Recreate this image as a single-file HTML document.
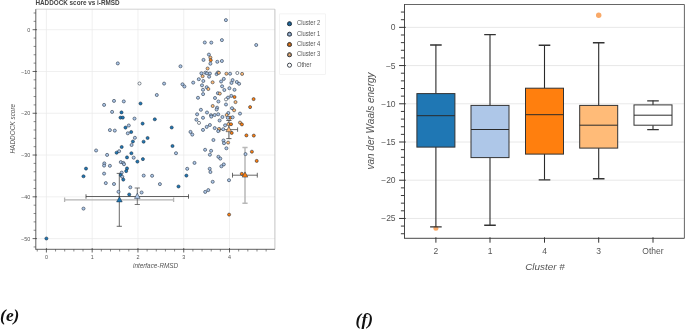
<!DOCTYPE html>
<html><head><meta charset="utf-8"><title>HADDOCK</title>
<style>html,body{margin:0;padding:0;background:#fff;}body{width:685px;height:329px;overflow:hidden;font-family:"Liberation Sans",sans-serif;}svg{display:block;will-change:transform;}text{font-family:"Liberation Sans",sans-serif;}.ser{font-family:"Liberation Serif",serif;}</style>
</head><body>
<svg width="685" height="329" viewBox="0 0 685 329">
<rect x="0" y="0" width="685" height="329" fill="#ffffff"/>
<g opacity="0.999">
<g id="left">
<line x1="46.40" y1="9.2" x2="46.40" y2="249.3" stroke="#e9e9e9" stroke-width="0.7"/>
<line x1="92.18" y1="9.2" x2="92.18" y2="249.3" stroke="#e9e9e9" stroke-width="0.7"/>
<line x1="137.96" y1="9.2" x2="137.96" y2="249.3" stroke="#e9e9e9" stroke-width="0.7"/>
<line x1="183.74" y1="9.2" x2="183.74" y2="249.3" stroke="#e9e9e9" stroke-width="0.7"/>
<line x1="229.52" y1="9.2" x2="229.52" y2="249.3" stroke="#e9e9e9" stroke-width="0.7"/>
<line x1="35.8" y1="29.70" x2="274.9" y2="29.70" stroke="#e9e9e9" stroke-width="0.7"/>
<line x1="35.8" y1="71.48" x2="274.9" y2="71.48" stroke="#e9e9e9" stroke-width="0.7"/>
<line x1="35.8" y1="113.26" x2="274.9" y2="113.26" stroke="#e9e9e9" stroke-width="0.7"/>
<line x1="35.8" y1="155.04" x2="274.9" y2="155.04" stroke="#e9e9e9" stroke-width="0.7"/>
<line x1="35.8" y1="196.82" x2="274.9" y2="196.82" stroke="#e9e9e9" stroke-width="0.7"/>
<line x1="35.8" y1="238.60" x2="274.9" y2="238.60" stroke="#e9e9e9" stroke-width="0.7"/>
<line x1="35.8" y1="9.2" x2="274.9" y2="9.2" stroke="#c8c8c8" stroke-width="0.8"/>
<line x1="274.9" y1="9.2" x2="274.9" y2="249.3" stroke="#b4b4b4" stroke-width="0.8"/>
<text x="35.4" y="4.5" font-size="6.35" font-weight="bold" fill="#444">HADDOCK score vs i-RMSD</text>
<path d="M64.6 199.8H173.6M64.6 197.6V202.0M173.6 197.6V202.0" stroke="#b4b4b4" stroke-width="1.3" fill="none"/>
<path d="M119.3 173.4V226.3M116.7 173.4H121.9M116.7 226.3H121.9" stroke="#444" stroke-width="0.8" fill="none"/>
<path d="M86.0 196.5H188.5M86.0 194.3V198.7M188.5 194.3V198.7" stroke="#3c3c3c" stroke-width="0.8" fill="none"/>
<path d="M137.3 188.0V204.5M134.7 188.0H139.9M134.7 204.5H139.9" stroke="#555" stroke-width="0.8" fill="none"/>
<path d="M245.0 147.4V203.2M242.4 147.4H247.6M242.4 203.2H247.6" stroke="#b8b8b8" stroke-width="1.5" fill="none"/>
<path d="M232.5 175.2H257.3M232.5 172.8V177.6M257.3 172.8V177.6" stroke="#444" stroke-width="0.8" fill="none"/>
<path d="M228.9 120.5V138.6M226.3 120.5H231.5M226.3 138.6H231.5" stroke="#444" stroke-width="0.85" fill="none"/>
<path d="M219.9 129.6H237.6M219.9 127.4V131.8M237.6 127.4V131.8" stroke="#4a4a4a" stroke-width="0.8" fill="none"/>
<circle cx="225.9" cy="20.1" r="1.55" fill="#aec7e8" stroke="#1c2a3a" stroke-width="0.55"/>
<circle cx="221.9" cy="40.1" r="1.55" fill="#aec7e8" stroke="#1c2a3a" stroke-width="0.55"/>
<circle cx="204.8" cy="42.5" r="1.55" fill="#aec7e8" stroke="#1c2a3a" stroke-width="0.55"/>
<circle cx="211.3" cy="42.6" r="1.55" fill="#aec7e8" stroke="#1c2a3a" stroke-width="0.55"/>
<circle cx="256.2" cy="45.0" r="1.55" fill="#aec7e8" stroke="#1c2a3a" stroke-width="0.55"/>
<circle cx="208.9" cy="54.6" r="1.55" fill="#aec7e8" stroke="#1c2a3a" stroke-width="0.55"/>
<circle cx="210.4" cy="57.6" r="1.55" fill="#ffbb78" stroke="#1c2a3a" stroke-width="0.55"/>
<circle cx="210.7" cy="60.2" r="1.55" fill="#ff7f0e" stroke="#1c2a3a" stroke-width="0.55"/>
<circle cx="203.5" cy="59.9" r="1.55" fill="#aec7e8" stroke="#1c2a3a" stroke-width="0.55"/>
<circle cx="210.4" cy="63.7" r="1.55" fill="#aec7e8" stroke="#1c2a3a" stroke-width="0.55"/>
<circle cx="217.3" cy="61.8" r="1.55" fill="#aec7e8" stroke="#1c2a3a" stroke-width="0.55"/>
<circle cx="221.9" cy="61.0" r="1.55" fill="#aec7e8" stroke="#1c2a3a" stroke-width="0.55"/>
<circle cx="207.6" cy="68.5" r="1.55" fill="#ffbb78" stroke="#1c2a3a" stroke-width="0.55"/>
<circle cx="201.4" cy="73.3" r="1.55" fill="#aec7e8" stroke="#1c2a3a" stroke-width="0.55"/>
<circle cx="205.4" cy="72.7" r="1.55" fill="#aec7e8" stroke="#1c2a3a" stroke-width="0.55"/>
<circle cx="207.0" cy="73.3" r="1.55" fill="#aec7e8" stroke="#1c2a3a" stroke-width="0.55"/>
<circle cx="209.9" cy="73.5" r="1.55" fill="#aec7e8" stroke="#1c2a3a" stroke-width="0.55"/>
<circle cx="202.6" cy="76.2" r="1.55" fill="#ffbb78" stroke="#1c2a3a" stroke-width="0.55"/>
<circle cx="209.1" cy="76.7" r="1.55" fill="#aec7e8" stroke="#1c2a3a" stroke-width="0.55"/>
<circle cx="216.6" cy="74.1" r="1.55" fill="#aec7e8" stroke="#1c2a3a" stroke-width="0.55"/>
<circle cx="217.9" cy="72.5" r="1.55" fill="#aec7e8" stroke="#1c2a3a" stroke-width="0.55"/>
<circle cx="218.9" cy="72.8" r="1.55" fill="#ffbb78" stroke="#1c2a3a" stroke-width="0.55"/>
<circle cx="226.4" cy="73.7" r="1.55" fill="#ffbb78" stroke="#1c2a3a" stroke-width="0.55"/>
<circle cx="230.1" cy="73.7" r="1.55" fill="#aec7e8" stroke="#1c2a3a" stroke-width="0.55"/>
<circle cx="237.3" cy="73.0" r="1.55" fill="#ffffff" stroke="#1c2a3a" stroke-width="0.55"/>
<circle cx="242.1" cy="73.9" r="1.55" fill="#ffbb78" stroke="#1c2a3a" stroke-width="0.55"/>
<circle cx="198.8" cy="79.2" r="1.55" fill="#aec7e8" stroke="#1c2a3a" stroke-width="0.55"/>
<circle cx="203.3" cy="81.0" r="1.55" fill="#aec7e8" stroke="#1c2a3a" stroke-width="0.55"/>
<circle cx="193.2" cy="82.6" r="1.55" fill="#aec7e8" stroke="#1c2a3a" stroke-width="0.55"/>
<circle cx="212.6" cy="82.3" r="1.55" fill="#ffbb78" stroke="#1c2a3a" stroke-width="0.55"/>
<circle cx="223.8" cy="78.9" r="1.55" fill="#aec7e8" stroke="#1c2a3a" stroke-width="0.55"/>
<circle cx="221.1" cy="81.5" r="1.55" fill="#aec7e8" stroke="#1c2a3a" stroke-width="0.55"/>
<circle cx="232.6" cy="80.1" r="1.55" fill="#aec7e8" stroke="#1c2a3a" stroke-width="0.55"/>
<circle cx="236.8" cy="82.0" r="1.55" fill="#aec7e8" stroke="#1c2a3a" stroke-width="0.55"/>
<circle cx="231.5" cy="82.9" r="1.55" fill="#aec7e8" stroke="#1c2a3a" stroke-width="0.55"/>
<circle cx="239.1" cy="83.8" r="1.55" fill="#aec7e8" stroke="#1c2a3a" stroke-width="0.55"/>
<circle cx="202.0" cy="85.3" r="1.55" fill="#aec7e8" stroke="#1c2a3a" stroke-width="0.55"/>
<circle cx="206.7" cy="87.2" r="1.55" fill="#aec7e8" stroke="#1c2a3a" stroke-width="0.55"/>
<circle cx="208.3" cy="89.0" r="1.55" fill="#ffbb78" stroke="#1c2a3a" stroke-width="0.55"/>
<circle cx="203.0" cy="89.8" r="1.55" fill="#aec7e8" stroke="#1c2a3a" stroke-width="0.55"/>
<circle cx="222.1" cy="86.3" r="1.55" fill="#aec7e8" stroke="#1c2a3a" stroke-width="0.55"/>
<circle cx="229.4" cy="88.2" r="1.55" fill="#aec7e8" stroke="#1c2a3a" stroke-width="0.55"/>
<circle cx="224.3" cy="90.0" r="1.55" fill="#aec7e8" stroke="#1c2a3a" stroke-width="0.55"/>
<circle cx="234.5" cy="89.8" r="1.55" fill="#aec7e8" stroke="#1c2a3a" stroke-width="0.55"/>
<circle cx="203.1" cy="94.1" r="1.55" fill="#aec7e8" stroke="#1c2a3a" stroke-width="0.55"/>
<circle cx="217.9" cy="93.2" r="1.55" fill="#aec7e8" stroke="#1c2a3a" stroke-width="0.55"/>
<circle cx="219.8" cy="93.6" r="1.55" fill="#ffbb78" stroke="#1c2a3a" stroke-width="0.55"/>
<circle cx="198.0" cy="97.8" r="1.55" fill="#aec7e8" stroke="#1c2a3a" stroke-width="0.55"/>
<circle cx="215.0" cy="98.0" r="1.55" fill="#aec7e8" stroke="#1c2a3a" stroke-width="0.55"/>
<circle cx="231.3" cy="95.9" r="1.55" fill="#aec7e8" stroke="#1c2a3a" stroke-width="0.55"/>
<circle cx="228.0" cy="97.6" r="1.55" fill="#aec7e8" stroke="#1c2a3a" stroke-width="0.55"/>
<circle cx="226.0" cy="99.4" r="1.55" fill="#ffffff" stroke="#1c2a3a" stroke-width="0.55"/>
<circle cx="234.5" cy="97.0" r="1.55" fill="#ff7f0e" stroke="#1c2a3a" stroke-width="0.55"/>
<circle cx="253.6" cy="99.1" r="1.55" fill="#ff7f0e" stroke="#1c2a3a" stroke-width="0.55"/>
<circle cx="218.4" cy="101.5" r="1.55" fill="#aec7e8" stroke="#1c2a3a" stroke-width="0.55"/>
<circle cx="235.5" cy="102.1" r="1.55" fill="#ffbb78" stroke="#1c2a3a" stroke-width="0.55"/>
<circle cx="226.0" cy="104.5" r="1.55" fill="#aec7e8" stroke="#1c2a3a" stroke-width="0.55"/>
<circle cx="212.7" cy="106.0" r="1.55" fill="#ffbb78" stroke="#1c2a3a" stroke-width="0.55"/>
<circle cx="217.1" cy="107.7" r="1.55" fill="#aec7e8" stroke="#1c2a3a" stroke-width="0.55"/>
<circle cx="216.6" cy="109.5" r="1.55" fill="#aec7e8" stroke="#1c2a3a" stroke-width="0.55"/>
<circle cx="250.1" cy="107.1" r="1.55" fill="#ff7f0e" stroke="#1c2a3a" stroke-width="0.55"/>
<circle cx="232.0" cy="108.2" r="1.55" fill="#aec7e8" stroke="#1c2a3a" stroke-width="0.55"/>
<circle cx="234.1" cy="110.3" r="1.55" fill="#ffbb78" stroke="#1c2a3a" stroke-width="0.55"/>
<circle cx="200.9" cy="109.8" r="1.55" fill="#aec7e8" stroke="#1c2a3a" stroke-width="0.55"/>
<circle cx="207.0" cy="112.5" r="1.55" fill="#aec7e8" stroke="#1c2a3a" stroke-width="0.55"/>
<circle cx="197.1" cy="114.3" r="1.55" fill="#aec7e8" stroke="#1c2a3a" stroke-width="0.55"/>
<circle cx="211.0" cy="115.2" r="1.55" fill="#aec7e8" stroke="#1c2a3a" stroke-width="0.55"/>
<circle cx="211.3" cy="116.6" r="1.55" fill="#aec7e8" stroke="#1c2a3a" stroke-width="0.55"/>
<circle cx="214.7" cy="115.0" r="1.55" fill="#aec7e8" stroke="#1c2a3a" stroke-width="0.55"/>
<circle cx="218.2" cy="114.3" r="1.55" fill="#aec7e8" stroke="#1c2a3a" stroke-width="0.55"/>
<circle cx="222.4" cy="117.0" r="1.55" fill="#aec7e8" stroke="#1c2a3a" stroke-width="0.55"/>
<circle cx="228.3" cy="113.0" r="1.55" fill="#aec7e8" stroke="#1c2a3a" stroke-width="0.55"/>
<circle cx="226.7" cy="115.0" r="1.55" fill="#ffbb78" stroke="#1c2a3a" stroke-width="0.55"/>
<circle cx="240.0" cy="113.6" r="1.55" fill="#aec7e8" stroke="#1c2a3a" stroke-width="0.55"/>
<circle cx="230.2" cy="117.8" r="1.55" fill="#ff7f0e" stroke="#1c2a3a" stroke-width="0.55"/>
<circle cx="232.6" cy="117.3" r="1.55" fill="#aec7e8" stroke="#1c2a3a" stroke-width="0.55"/>
<circle cx="227.8" cy="117.8" r="1.55" fill="#aec7e8" stroke="#1c2a3a" stroke-width="0.55"/>
<circle cx="203.0" cy="117.8" r="1.55" fill="#aec7e8" stroke="#1c2a3a" stroke-width="0.55"/>
<circle cx="196.4" cy="119.7" r="1.55" fill="#aec7e8" stroke="#1c2a3a" stroke-width="0.55"/>
<circle cx="199.0" cy="122.9" r="1.55" fill="#ffffff" stroke="#1c2a3a" stroke-width="0.55"/>
<circle cx="219.6" cy="120.5" r="1.55" fill="#aec7e8" stroke="#1c2a3a" stroke-width="0.55"/>
<circle cx="240.0" cy="122.6" r="1.55" fill="#ffbb78" stroke="#1c2a3a" stroke-width="0.55"/>
<circle cx="241.9" cy="124.4" r="1.55" fill="#ff7f0e" stroke="#1c2a3a" stroke-width="0.55"/>
<circle cx="228.4" cy="124.1" r="1.55" fill="#ffbb78" stroke="#1c2a3a" stroke-width="0.55"/>
<circle cx="231.0" cy="124.2" r="1.55" fill="#ff7f0e" stroke="#1c2a3a" stroke-width="0.55"/>
<circle cx="225.1" cy="125.3" r="1.55" fill="#aec7e8" stroke="#1c2a3a" stroke-width="0.55"/>
<circle cx="209.9" cy="125.0" r="1.55" fill="#aec7e8" stroke="#1c2a3a" stroke-width="0.55"/>
<circle cx="206.7" cy="126.9" r="1.55" fill="#aec7e8" stroke="#1c2a3a" stroke-width="0.55"/>
<circle cx="203.0" cy="129.9" r="1.55" fill="#aec7e8" stroke="#1c2a3a" stroke-width="0.55"/>
<circle cx="214.7" cy="128.1" r="1.55" fill="#aec7e8" stroke="#1c2a3a" stroke-width="0.55"/>
<circle cx="218.9" cy="129.0" r="1.55" fill="#ffbb78" stroke="#1c2a3a" stroke-width="0.55"/>
<circle cx="218.2" cy="131.1" r="1.55" fill="#aec7e8" stroke="#1c2a3a" stroke-width="0.55"/>
<circle cx="223.2" cy="129.2" r="1.55" fill="#aec7e8" stroke="#1c2a3a" stroke-width="0.55"/>
<circle cx="231.7" cy="132.9" r="1.55" fill="#ff7f0e" stroke="#1c2a3a" stroke-width="0.55"/>
<circle cx="246.4" cy="135.4" r="1.55" fill="#ff7f0e" stroke="#1c2a3a" stroke-width="0.55"/>
<circle cx="253.8" cy="135.6" r="1.55" fill="#ff7f0e" stroke="#1c2a3a" stroke-width="0.55"/>
<circle cx="190.5" cy="131.9" r="1.55" fill="#aec7e8" stroke="#1c2a3a" stroke-width="0.55"/>
<circle cx="192.3" cy="134.6" r="1.55" fill="#aec7e8" stroke="#1c2a3a" stroke-width="0.55"/>
<circle cx="213.4" cy="140.0" r="1.55" fill="#aec7e8" stroke="#1c2a3a" stroke-width="0.55"/>
<circle cx="223.5" cy="140.5" r="1.55" fill="#aec7e8" stroke="#1c2a3a" stroke-width="0.55"/>
<circle cx="224.0" cy="143.2" r="1.55" fill="#aec7e8" stroke="#1c2a3a" stroke-width="0.55"/>
<circle cx="228.1" cy="142.6" r="1.55" fill="#ffbb78" stroke="#1c2a3a" stroke-width="0.55"/>
<circle cx="226.4" cy="148.3" r="1.55" fill="#aec7e8" stroke="#1c2a3a" stroke-width="0.55"/>
<circle cx="205.1" cy="149.8" r="1.55" fill="#aec7e8" stroke="#1c2a3a" stroke-width="0.55"/>
<circle cx="211.1" cy="150.8" r="1.55" fill="#aec7e8" stroke="#1c2a3a" stroke-width="0.55"/>
<circle cx="209.9" cy="154.7" r="1.55" fill="#aec7e8" stroke="#1c2a3a" stroke-width="0.55"/>
<circle cx="218.4" cy="156.8" r="1.55" fill="#aec7e8" stroke="#1c2a3a" stroke-width="0.55"/>
<circle cx="220.3" cy="158.6" r="1.55" fill="#aec7e8" stroke="#1c2a3a" stroke-width="0.55"/>
<circle cx="245.5" cy="154.1" r="1.55" fill="#aec7e8" stroke="#1c2a3a" stroke-width="0.55"/>
<circle cx="251.9" cy="151.7" r="1.55" fill="#ff7f0e" stroke="#1c2a3a" stroke-width="0.55"/>
<circle cx="256.7" cy="160.9" r="1.55" fill="#ff7f0e" stroke="#1c2a3a" stroke-width="0.55"/>
<circle cx="194.5" cy="162.9" r="1.55" fill="#aec7e8" stroke="#1c2a3a" stroke-width="0.55"/>
<circle cx="223.8" cy="164.4" r="1.55" fill="#aec7e8" stroke="#1c2a3a" stroke-width="0.55"/>
<circle cx="221.4" cy="166.3" r="1.55" fill="#aec7e8" stroke="#1c2a3a" stroke-width="0.55"/>
<circle cx="209.7" cy="168.8" r="1.55" fill="#aec7e8" stroke="#1c2a3a" stroke-width="0.55"/>
<circle cx="210.4" cy="172.0" r="1.55" fill="#aec7e8" stroke="#1c2a3a" stroke-width="0.55"/>
<circle cx="212.7" cy="181.8" r="1.55" fill="#aec7e8" stroke="#1c2a3a" stroke-width="0.55"/>
<circle cx="229.0" cy="180.2" r="1.55" fill="#aec7e8" stroke="#1c2a3a" stroke-width="0.55"/>
<circle cx="208.3" cy="190.1" r="1.55" fill="#aec7e8" stroke="#1c2a3a" stroke-width="0.55"/>
<circle cx="205.2" cy="191.9" r="1.55" fill="#aec7e8" stroke="#1c2a3a" stroke-width="0.55"/>
<circle cx="241.8" cy="173.8" r="1.55" fill="#ff7f0e" stroke="#1c2a3a" stroke-width="0.55"/>
<circle cx="229.1" cy="214.6" r="1.55" fill="#ff7f0e" stroke="#1c2a3a" stroke-width="0.55"/>
<circle cx="117.8" cy="63.4" r="1.55" fill="#aec7e8" stroke="#1c2a3a" stroke-width="0.55"/>
<circle cx="180.5" cy="66.3" r="1.55" fill="#aec7e8" stroke="#1c2a3a" stroke-width="0.55"/>
<circle cx="139.5" cy="83.5" r="1.55" fill="#ffffff" stroke="#1c2a3a" stroke-width="0.55"/>
<circle cx="164.1" cy="83.6" r="1.55" fill="#aec7e8" stroke="#1c2a3a" stroke-width="0.55"/>
<circle cx="182.5" cy="84.3" r="1.55" fill="#aec7e8" stroke="#1c2a3a" stroke-width="0.55"/>
<circle cx="184.4" cy="86.5" r="1.55" fill="#aec7e8" stroke="#1c2a3a" stroke-width="0.55"/>
<circle cx="156.8" cy="95.0" r="1.55" fill="#aec7e8" stroke="#1c2a3a" stroke-width="0.55"/>
<circle cx="114.0" cy="100.9" r="1.55" fill="#aec7e8" stroke="#1c2a3a" stroke-width="0.55"/>
<circle cx="123.8" cy="101.4" r="1.55" fill="#aec7e8" stroke="#1c2a3a" stroke-width="0.55"/>
<circle cx="104.1" cy="104.9" r="1.55" fill="#aec7e8" stroke="#1c2a3a" stroke-width="0.55"/>
<circle cx="140.5" cy="103.5" r="1.55" fill="#1f77b4" stroke="#1c2a3a" stroke-width="0.55"/>
<circle cx="112.1" cy="111.9" r="1.55" fill="#aec7e8" stroke="#1c2a3a" stroke-width="0.55"/>
<circle cx="121.5" cy="112.4" r="1.55" fill="#1f77b4" stroke="#1c2a3a" stroke-width="0.55"/>
<circle cx="120.5" cy="117.6" r="1.55" fill="#1f77b4" stroke="#1c2a3a" stroke-width="0.55"/>
<circle cx="122.8" cy="117.6" r="1.55" fill="#1f77b4" stroke="#1c2a3a" stroke-width="0.55"/>
<circle cx="134.5" cy="118.6" r="1.55" fill="#aec7e8" stroke="#1c2a3a" stroke-width="0.55"/>
<circle cx="154.8" cy="119.3" r="1.55" fill="#1f77b4" stroke="#1c2a3a" stroke-width="0.55"/>
<circle cx="142.6" cy="123.6" r="1.55" fill="#1f77b4" stroke="#1c2a3a" stroke-width="0.55"/>
<circle cx="128.8" cy="125.5" r="1.55" fill="#aec7e8" stroke="#1c2a3a" stroke-width="0.55"/>
<circle cx="125.5" cy="127.6" r="1.55" fill="#1f77b4" stroke="#1c2a3a" stroke-width="0.55"/>
<circle cx="171.7" cy="127.5" r="1.55" fill="#1f77b4" stroke="#1c2a3a" stroke-width="0.55"/>
<circle cx="109.9" cy="130.1" r="1.55" fill="#aec7e8" stroke="#1c2a3a" stroke-width="0.55"/>
<circle cx="114.8" cy="130.6" r="1.55" fill="#aec7e8" stroke="#1c2a3a" stroke-width="0.55"/>
<circle cx="131.2" cy="132.0" r="1.55" fill="#1f77b4" stroke="#1c2a3a" stroke-width="0.55"/>
<circle cx="127.8" cy="133.3" r="1.55" fill="#aec7e8" stroke="#1c2a3a" stroke-width="0.55"/>
<circle cx="134.9" cy="137.8" r="1.55" fill="#aec7e8" stroke="#1c2a3a" stroke-width="0.55"/>
<circle cx="147.6" cy="138.0" r="1.55" fill="#1f77b4" stroke="#1c2a3a" stroke-width="0.55"/>
<circle cx="132.9" cy="141.5" r="1.55" fill="#1f77b4" stroke="#1c2a3a" stroke-width="0.55"/>
<circle cx="143.6" cy="141.7" r="1.55" fill="#1f77b4" stroke="#1c2a3a" stroke-width="0.55"/>
<circle cx="131.6" cy="145.0" r="1.55" fill="#aec7e8" stroke="#1c2a3a" stroke-width="0.55"/>
<circle cx="172.5" cy="146.0" r="1.55" fill="#1f77b4" stroke="#1c2a3a" stroke-width="0.55"/>
<circle cx="121.7" cy="147.0" r="1.55" fill="#1f77b4" stroke="#1c2a3a" stroke-width="0.55"/>
<circle cx="96.1" cy="150.5" r="1.55" fill="#aec7e8" stroke="#1c2a3a" stroke-width="0.55"/>
<circle cx="119.1" cy="151.2" r="1.55" fill="#aec7e8" stroke="#1c2a3a" stroke-width="0.55"/>
<circle cx="116.6" cy="152.7" r="1.55" fill="#1f77b4" stroke="#1c2a3a" stroke-width="0.55"/>
<circle cx="107.1" cy="154.9" r="1.55" fill="#aec7e8" stroke="#1c2a3a" stroke-width="0.55"/>
<circle cx="131.4" cy="153.2" r="1.55" fill="#1f77b4" stroke="#1c2a3a" stroke-width="0.55"/>
<circle cx="176.0" cy="153.2" r="1.55" fill="#aec7e8" stroke="#1c2a3a" stroke-width="0.55"/>
<circle cx="127.0" cy="157.4" r="1.55" fill="#1f77b4" stroke="#1c2a3a" stroke-width="0.55"/>
<circle cx="133.7" cy="157.7" r="1.55" fill="#aec7e8" stroke="#1c2a3a" stroke-width="0.55"/>
<circle cx="142.9" cy="159.1" r="1.55" fill="#1f77b4" stroke="#1c2a3a" stroke-width="0.55"/>
<circle cx="137.4" cy="161.6" r="1.55" fill="#1f77b4" stroke="#1c2a3a" stroke-width="0.55"/>
<circle cx="120.8" cy="162.1" r="1.55" fill="#aec7e8" stroke="#1c2a3a" stroke-width="0.55"/>
<circle cx="123.3" cy="162.9" r="1.55" fill="#aec7e8" stroke="#1c2a3a" stroke-width="0.55"/>
<circle cx="124.0" cy="164.2" r="1.55" fill="#aec7e8" stroke="#1c2a3a" stroke-width="0.55"/>
<circle cx="104.3" cy="163.4" r="1.55" fill="#aec7e8" stroke="#1c2a3a" stroke-width="0.55"/>
<circle cx="104.1" cy="165.6" r="1.55" fill="#aec7e8" stroke="#1c2a3a" stroke-width="0.55"/>
<circle cx="109.9" cy="165.8" r="1.55" fill="#aec7e8" stroke="#1c2a3a" stroke-width="0.55"/>
<circle cx="86.0" cy="168.6" r="1.55" fill="#1f77b4" stroke="#1c2a3a" stroke-width="0.55"/>
<circle cx="127.0" cy="168.4" r="1.55" fill="#1f77b4" stroke="#1c2a3a" stroke-width="0.55"/>
<circle cx="126.2" cy="171.1" r="1.55" fill="#1f77b4" stroke="#1c2a3a" stroke-width="0.55"/>
<circle cx="187.2" cy="168.8" r="1.55" fill="#aec7e8" stroke="#1c2a3a" stroke-width="0.55"/>
<circle cx="121.7" cy="172.6" r="1.55" fill="#aec7e8" stroke="#1c2a3a" stroke-width="0.55"/>
<circle cx="104.1" cy="173.6" r="1.55" fill="#aec7e8" stroke="#1c2a3a" stroke-width="0.55"/>
<circle cx="83.5" cy="176.3" r="1.55" fill="#1f77b4" stroke="#1c2a3a" stroke-width="0.55"/>
<circle cx="120.8" cy="175.1" r="1.55" fill="#1f77b4" stroke="#1c2a3a" stroke-width="0.55"/>
<circle cx="122.3" cy="176.8" r="1.55" fill="#aec7e8" stroke="#1c2a3a" stroke-width="0.55"/>
<circle cx="123.3" cy="179.6" r="1.55" fill="#1f77b4" stroke="#1c2a3a" stroke-width="0.55"/>
<circle cx="143.7" cy="175.6" r="1.55" fill="#aec7e8" stroke="#1c2a3a" stroke-width="0.55"/>
<circle cx="152.1" cy="175.8" r="1.55" fill="#aec7e8" stroke="#1c2a3a" stroke-width="0.55"/>
<circle cx="186.4" cy="175.6" r="1.55" fill="#1f77b4" stroke="#1c2a3a" stroke-width="0.55"/>
<circle cx="105.8" cy="183.1" r="1.55" fill="#aec7e8" stroke="#1c2a3a" stroke-width="0.55"/>
<circle cx="114.0" cy="184.0" r="1.55" fill="#aec7e8" stroke="#1c2a3a" stroke-width="0.55"/>
<circle cx="159.9" cy="184.1" r="1.55" fill="#aec7e8" stroke="#1c2a3a" stroke-width="0.55"/>
<circle cx="178.5" cy="186.5" r="1.55" fill="#1f77b4" stroke="#1c2a3a" stroke-width="0.55"/>
<circle cx="130.3" cy="187.3" r="1.55" fill="#aec7e8" stroke="#1c2a3a" stroke-width="0.55"/>
<circle cx="118.5" cy="191.8" r="1.55" fill="#aec7e8" stroke="#1c2a3a" stroke-width="0.55"/>
<circle cx="141.6" cy="192.5" r="1.55" fill="#aec7e8" stroke="#1c2a3a" stroke-width="0.55"/>
<circle cx="129.2" cy="194.5" r="1.55" fill="#1f77b4" stroke="#1c2a3a" stroke-width="0.55"/>
<circle cx="83.5" cy="208.6" r="1.55" fill="#aec7e8" stroke="#1c2a3a" stroke-width="0.55"/>
<circle cx="46.4" cy="238.5" r="1.55" fill="#1f77b4" stroke="#1c2a3a" stroke-width="0.55"/>
<path d="M119.4 196.7L122.2 201.9L116.6 201.9Z" fill="#1f77b4" stroke="#1c2a3a" stroke-width="0.5"/>
<path d="M137.3 193.2L140.1 198.4L134.5 198.4Z" fill="#aec7e8" stroke="#1c2a3a" stroke-width="0.5"/>
<path d="M245.0 171.9L247.8 177.1L242.2 177.1Z" fill="#ff7f0e" stroke="#1c2a3a" stroke-width="0.5"/>
<path d="M228.8 126.5L231.6 131.7L226.0 131.7Z" fill="#ffbb78" stroke="#1c2a3a" stroke-width="0.5"/>
<line x1="35.8" y1="9.2" x2="35.8" y2="249.3" stroke="#3a3a3a" stroke-width="0.8"/>
<line x1="35.4" y1="249.3" x2="274.9" y2="249.3" stroke="#3a3a3a" stroke-width="0.8"/>
<line x1="33.599999999999994" y1="12.99" x2="35.8" y2="12.99" stroke="#3a3a3a" stroke-width="0.6"/>
<line x1="33.599999999999994" y1="21.34" x2="35.8" y2="21.34" stroke="#3a3a3a" stroke-width="0.6"/>
<line x1="32.599999999999994" y1="29.70" x2="36.9" y2="29.70" stroke="#3a3a3a" stroke-width="0.8"/>
<line x1="33.599999999999994" y1="38.06" x2="35.8" y2="38.06" stroke="#3a3a3a" stroke-width="0.6"/>
<line x1="33.599999999999994" y1="46.41" x2="35.8" y2="46.41" stroke="#3a3a3a" stroke-width="0.6"/>
<line x1="33.599999999999994" y1="54.77" x2="35.8" y2="54.77" stroke="#3a3a3a" stroke-width="0.6"/>
<line x1="33.599999999999994" y1="63.12" x2="35.8" y2="63.12" stroke="#3a3a3a" stroke-width="0.6"/>
<line x1="32.599999999999994" y1="71.48" x2="36.9" y2="71.48" stroke="#3a3a3a" stroke-width="0.8"/>
<line x1="33.599999999999994" y1="79.84" x2="35.8" y2="79.84" stroke="#3a3a3a" stroke-width="0.6"/>
<line x1="33.599999999999994" y1="88.19" x2="35.8" y2="88.19" stroke="#3a3a3a" stroke-width="0.6"/>
<line x1="33.599999999999994" y1="96.55" x2="35.8" y2="96.55" stroke="#3a3a3a" stroke-width="0.6"/>
<line x1="33.599999999999994" y1="104.90" x2="35.8" y2="104.90" stroke="#3a3a3a" stroke-width="0.6"/>
<line x1="32.599999999999994" y1="113.26" x2="36.9" y2="113.26" stroke="#3a3a3a" stroke-width="0.8"/>
<line x1="33.599999999999994" y1="121.62" x2="35.8" y2="121.62" stroke="#3a3a3a" stroke-width="0.6"/>
<line x1="33.599999999999994" y1="129.97" x2="35.8" y2="129.97" stroke="#3a3a3a" stroke-width="0.6"/>
<line x1="33.599999999999994" y1="138.33" x2="35.8" y2="138.33" stroke="#3a3a3a" stroke-width="0.6"/>
<line x1="33.599999999999994" y1="146.68" x2="35.8" y2="146.68" stroke="#3a3a3a" stroke-width="0.6"/>
<line x1="32.599999999999994" y1="155.04" x2="36.9" y2="155.04" stroke="#3a3a3a" stroke-width="0.8"/>
<line x1="33.599999999999994" y1="163.40" x2="35.8" y2="163.40" stroke="#3a3a3a" stroke-width="0.6"/>
<line x1="33.599999999999994" y1="171.75" x2="35.8" y2="171.75" stroke="#3a3a3a" stroke-width="0.6"/>
<line x1="33.599999999999994" y1="180.11" x2="35.8" y2="180.11" stroke="#3a3a3a" stroke-width="0.6"/>
<line x1="33.599999999999994" y1="188.46" x2="35.8" y2="188.46" stroke="#3a3a3a" stroke-width="0.6"/>
<line x1="32.599999999999994" y1="196.82" x2="36.9" y2="196.82" stroke="#3a3a3a" stroke-width="0.8"/>
<line x1="33.599999999999994" y1="205.18" x2="35.8" y2="205.18" stroke="#3a3a3a" stroke-width="0.6"/>
<line x1="33.599999999999994" y1="213.53" x2="35.8" y2="213.53" stroke="#3a3a3a" stroke-width="0.6"/>
<line x1="33.599999999999994" y1="221.89" x2="35.8" y2="221.89" stroke="#3a3a3a" stroke-width="0.6"/>
<line x1="33.599999999999994" y1="230.24" x2="35.8" y2="230.24" stroke="#3a3a3a" stroke-width="0.6"/>
<line x1="32.599999999999994" y1="238.60" x2="36.9" y2="238.60" stroke="#3a3a3a" stroke-width="0.8"/>
<line x1="33.599999999999994" y1="246.96" x2="35.8" y2="246.96" stroke="#3a3a3a" stroke-width="0.6"/>
<text x="30.2" y="31.85" font-size="5.4" text-anchor="end" fill="#555">0</text>
<text x="30.2" y="73.63" font-size="5.4" text-anchor="end" fill="#555">−10</text>
<text x="30.2" y="115.41" font-size="5.4" text-anchor="end" fill="#555">−20</text>
<text x="30.2" y="157.19" font-size="5.4" text-anchor="end" fill="#555">−30</text>
<text x="30.2" y="198.97" font-size="5.4" text-anchor="end" fill="#555">−40</text>
<text x="30.2" y="240.75" font-size="5.4" text-anchor="end" fill="#555">−50</text>
<line x1="37.24" y1="249.3" x2="37.24" y2="251.5" stroke="#3a3a3a" stroke-width="0.6"/>
<line x1="46.40" y1="248.10000000000002" x2="46.40" y2="252.5" stroke="#3a3a3a" stroke-width="0.8"/>
<line x1="55.56" y1="249.3" x2="55.56" y2="251.5" stroke="#3a3a3a" stroke-width="0.6"/>
<line x1="64.71" y1="249.3" x2="64.71" y2="251.5" stroke="#3a3a3a" stroke-width="0.6"/>
<line x1="73.87" y1="249.3" x2="73.87" y2="251.5" stroke="#3a3a3a" stroke-width="0.6"/>
<line x1="83.02" y1="249.3" x2="83.02" y2="251.5" stroke="#3a3a3a" stroke-width="0.6"/>
<line x1="92.18" y1="248.10000000000002" x2="92.18" y2="252.5" stroke="#3a3a3a" stroke-width="0.8"/>
<line x1="101.34" y1="249.3" x2="101.34" y2="251.5" stroke="#3a3a3a" stroke-width="0.6"/>
<line x1="110.49" y1="249.3" x2="110.49" y2="251.5" stroke="#3a3a3a" stroke-width="0.6"/>
<line x1="119.65" y1="249.3" x2="119.65" y2="251.5" stroke="#3a3a3a" stroke-width="0.6"/>
<line x1="128.80" y1="249.3" x2="128.80" y2="251.5" stroke="#3a3a3a" stroke-width="0.6"/>
<line x1="137.96" y1="248.10000000000002" x2="137.96" y2="252.5" stroke="#3a3a3a" stroke-width="0.8"/>
<line x1="147.12" y1="249.3" x2="147.12" y2="251.5" stroke="#3a3a3a" stroke-width="0.6"/>
<line x1="156.27" y1="249.3" x2="156.27" y2="251.5" stroke="#3a3a3a" stroke-width="0.6"/>
<line x1="165.43" y1="249.3" x2="165.43" y2="251.5" stroke="#3a3a3a" stroke-width="0.6"/>
<line x1="174.58" y1="249.3" x2="174.58" y2="251.5" stroke="#3a3a3a" stroke-width="0.6"/>
<line x1="183.74" y1="248.10000000000002" x2="183.74" y2="252.5" stroke="#3a3a3a" stroke-width="0.8"/>
<line x1="192.90" y1="249.3" x2="192.90" y2="251.5" stroke="#3a3a3a" stroke-width="0.6"/>
<line x1="202.05" y1="249.3" x2="202.05" y2="251.5" stroke="#3a3a3a" stroke-width="0.6"/>
<line x1="211.21" y1="249.3" x2="211.21" y2="251.5" stroke="#3a3a3a" stroke-width="0.6"/>
<line x1="220.36" y1="249.3" x2="220.36" y2="251.5" stroke="#3a3a3a" stroke-width="0.6"/>
<line x1="229.52" y1="248.10000000000002" x2="229.52" y2="252.5" stroke="#3a3a3a" stroke-width="0.8"/>
<line x1="238.68" y1="249.3" x2="238.68" y2="251.5" stroke="#3a3a3a" stroke-width="0.6"/>
<line x1="247.83" y1="249.3" x2="247.83" y2="251.5" stroke="#3a3a3a" stroke-width="0.6"/>
<line x1="256.99" y1="249.3" x2="256.99" y2="251.5" stroke="#3a3a3a" stroke-width="0.6"/>
<line x1="266.14" y1="249.3" x2="266.14" y2="251.5" stroke="#3a3a3a" stroke-width="0.6"/>
<text x="46.40" y="259.0" font-size="5.4" text-anchor="middle" fill="#555">0</text>
<text x="92.18" y="259.0" font-size="5.4" text-anchor="middle" fill="#555">1</text>
<text x="137.96" y="259.0" font-size="5.4" text-anchor="middle" fill="#555">2</text>
<text x="183.74" y="259.0" font-size="5.4" text-anchor="middle" fill="#555">3</text>
<text x="229.52" y="259.0" font-size="5.4" text-anchor="middle" fill="#555">4</text>
<text x="155.6" y="267.7" font-size="6.37" font-style="italic" text-anchor="middle" fill="#555">interface-RMSD</text>
<text transform="translate(15.3 128.7) rotate(-90)" font-size="6.45" font-style="italic" text-anchor="middle" fill="#555">HADDOCK score</text>
<rect x="279.7" y="13.9" width="45.8" height="60.8" fill="#ffffff" stroke="#ececec" stroke-width="0.6"/>
<circle cx="289.5" cy="23.7" r="2.05" fill="#1f77b4" stroke="#141c26" stroke-width="0.8"/>
<path d="M289.5 21.8L291.5 25.0L287.5 25.0Z" fill="#1f77b4" stroke="#1c2a3a" stroke-width="0.5"/>
<text transform="translate(297.0 25.2) scale(1 1.25)" font-size="5.8" fill="#555">Cluster 2</text>
<circle cx="289.5" cy="34.2" r="2.05" fill="#aec7e8" stroke="#141c26" stroke-width="0.8"/>
<path d="M289.5 32.3L291.5 35.5L287.5 35.5Z" fill="#aec7e8" stroke="#1c2a3a" stroke-width="0.5"/>
<text transform="translate(297.0 35.7) scale(1 1.25)" font-size="5.8" fill="#555">Cluster 1</text>
<circle cx="289.5" cy="44.5" r="2.05" fill="#ff7f0e" stroke="#141c26" stroke-width="0.8"/>
<path d="M289.5 42.6L291.5 45.8L287.5 45.8Z" fill="#ff7f0e" stroke="#1c2a3a" stroke-width="0.5"/>
<text transform="translate(297.0 46.0) scale(1 1.25)" font-size="5.8" fill="#555">Cluster 4</text>
<circle cx="289.5" cy="54.7" r="2.05" fill="#ffbb78" stroke="#141c26" stroke-width="0.8"/>
<path d="M289.5 52.8L291.5 56.0L287.5 56.0Z" fill="#ffbb78" stroke="#1c2a3a" stroke-width="0.5"/>
<text transform="translate(297.0 56.2) scale(1 1.25)" font-size="5.8" fill="#555">Cluster 3</text>
<circle cx="289.5" cy="65.2" r="2.05" fill="#ffffff" stroke="#141c26" stroke-width="0.8"/>
<text transform="translate(297.0 66.7) scale(1 1.25)" font-size="5.8" fill="#555">Other</text>
</g>
<g id="right">
<line x1="404.5" y1="27.35" x2="684.4" y2="27.35" stroke="#e2e2e2" stroke-width="0.8"/>
<line x1="404.5" y1="65.57" x2="684.4" y2="65.57" stroke="#e2e2e2" stroke-width="0.8"/>
<line x1="404.5" y1="103.79" x2="684.4" y2="103.79" stroke="#e2e2e2" stroke-width="0.8"/>
<line x1="404.5" y1="142.01" x2="684.4" y2="142.01" stroke="#e2e2e2" stroke-width="0.8"/>
<line x1="404.5" y1="180.23" x2="684.4" y2="180.23" stroke="#e2e2e2" stroke-width="0.8"/>
<line x1="404.5" y1="218.45" x2="684.4" y2="218.45" stroke="#e2e2e2" stroke-width="0.8"/>
<circle cx="598.7" cy="15.3" r="2.7" fill="#f9a968"/>
<circle cx="435.9" cy="228.2" r="2.5" fill="#f9a968"/>
<path d="M435.9 44.7V93.6M435.9 147.1V226.8" stroke="#2a2a2a" stroke-width="1.1" fill="none"/>
<path d="M430.09999999999997 45.0H441.7M430.09999999999997 226.9H441.7" stroke="#333" stroke-width="1.4" fill="none"/>
<rect x="416.9" y="93.6" width="38.0" height="53.5" fill="#1f77b4" stroke="#333" stroke-width="1"/>
<line x1="416.9" y1="115.7" x2="454.9" y2="115.7" stroke="#2a2a2a" stroke-width="1"/>
<path d="M490.0 34.3V105.4M490.0 157.6V225.1" stroke="#2a2a2a" stroke-width="1.1" fill="none"/>
<path d="M484.2 34.6H495.8M484.2 225.2H495.8" stroke="#333" stroke-width="1.4" fill="none"/>
<rect x="471.0" y="105.4" width="38.0" height="52.2" fill="#aec7e8" stroke="#333" stroke-width="1"/>
<line x1="471.0" y1="129.5" x2="509.0" y2="129.5" stroke="#2a2a2a" stroke-width="1"/>
<path d="M544.5 44.9V88.2M544.5 154.1V179.8" stroke="#2a2a2a" stroke-width="1.1" fill="none"/>
<path d="M538.7 45.2H550.3M538.7 179.9H550.3" stroke="#333" stroke-width="1.4" fill="none"/>
<rect x="525.5" y="88.2" width="38.0" height="65.9" fill="#ff7f0e" stroke="#333" stroke-width="1"/>
<line x1="525.5" y1="114.7" x2="563.5" y2="114.7" stroke="#2a2a2a" stroke-width="1"/>
<path d="M598.7 42.5V105.4M598.7 148.1V178.6" stroke="#2a2a2a" stroke-width="1.1" fill="none"/>
<path d="M592.9000000000001 42.8H604.5M592.9000000000001 178.7H604.5" stroke="#333" stroke-width="1.4" fill="none"/>
<rect x="579.7" y="105.4" width="38.0" height="42.7" fill="#ffbb78" stroke="#333" stroke-width="1"/>
<line x1="579.7" y1="125.2" x2="617.7" y2="125.2" stroke="#2a2a2a" stroke-width="1"/>
<path d="M653.0 100.6V104.9M653.0 125.2V129.5" stroke="#2a2a2a" stroke-width="1.1" fill="none"/>
<path d="M647.2 100.9H658.8M647.2 129.6H658.8" stroke="#333" stroke-width="1.4" fill="none"/>
<rect x="634.0" y="104.9" width="38.0" height="20.3" fill="#ffffff" stroke="#333" stroke-width="1"/>
<line x1="634.0" y1="115.2" x2="672.0" y2="115.2" stroke="#2a2a2a" stroke-width="1"/>
<path d="M404.5 4.5H684.4V238.3" fill="none" stroke="#555" stroke-width="0.9"/>
<line x1="404.5" y1="4.1" x2="404.5" y2="238.3" stroke="#333" stroke-width="0.9"/>
<line x1="404.1" y1="238.3" x2="684.4" y2="238.3" stroke="#333" stroke-width="0.9"/>
<line x1="400.9" y1="12.06" x2="404.5" y2="12.06" stroke="#3a3a3a" stroke-width="1"/>
<line x1="400.9" y1="19.71" x2="404.5" y2="19.71" stroke="#3a3a3a" stroke-width="1"/>
<line x1="399.1" y1="27.35" x2="405.7" y2="27.35" stroke="#333" stroke-width="1"/>
<line x1="400.9" y1="34.99" x2="404.5" y2="34.99" stroke="#3a3a3a" stroke-width="1"/>
<line x1="400.9" y1="42.64" x2="404.5" y2="42.64" stroke="#3a3a3a" stroke-width="1"/>
<line x1="400.9" y1="50.28" x2="404.5" y2="50.28" stroke="#3a3a3a" stroke-width="1"/>
<line x1="400.9" y1="57.93" x2="404.5" y2="57.93" stroke="#3a3a3a" stroke-width="1"/>
<line x1="399.1" y1="65.57" x2="405.7" y2="65.57" stroke="#333" stroke-width="1"/>
<line x1="400.9" y1="73.21" x2="404.5" y2="73.21" stroke="#3a3a3a" stroke-width="1"/>
<line x1="400.9" y1="80.86" x2="404.5" y2="80.86" stroke="#3a3a3a" stroke-width="1"/>
<line x1="400.9" y1="88.50" x2="404.5" y2="88.50" stroke="#3a3a3a" stroke-width="1"/>
<line x1="400.9" y1="96.15" x2="404.5" y2="96.15" stroke="#3a3a3a" stroke-width="1"/>
<line x1="399.1" y1="103.79" x2="405.7" y2="103.79" stroke="#333" stroke-width="1"/>
<line x1="400.9" y1="111.43" x2="404.5" y2="111.43" stroke="#3a3a3a" stroke-width="1"/>
<line x1="400.9" y1="119.08" x2="404.5" y2="119.08" stroke="#3a3a3a" stroke-width="1"/>
<line x1="400.9" y1="126.72" x2="404.5" y2="126.72" stroke="#3a3a3a" stroke-width="1"/>
<line x1="400.9" y1="134.37" x2="404.5" y2="134.37" stroke="#3a3a3a" stroke-width="1"/>
<line x1="399.1" y1="142.01" x2="405.7" y2="142.01" stroke="#333" stroke-width="1"/>
<line x1="400.9" y1="149.65" x2="404.5" y2="149.65" stroke="#3a3a3a" stroke-width="1"/>
<line x1="400.9" y1="157.30" x2="404.5" y2="157.30" stroke="#3a3a3a" stroke-width="1"/>
<line x1="400.9" y1="164.94" x2="404.5" y2="164.94" stroke="#3a3a3a" stroke-width="1"/>
<line x1="400.9" y1="172.59" x2="404.5" y2="172.59" stroke="#3a3a3a" stroke-width="1"/>
<line x1="399.1" y1="180.23" x2="405.7" y2="180.23" stroke="#333" stroke-width="1"/>
<line x1="400.9" y1="187.87" x2="404.5" y2="187.87" stroke="#3a3a3a" stroke-width="1"/>
<line x1="400.9" y1="195.52" x2="404.5" y2="195.52" stroke="#3a3a3a" stroke-width="1"/>
<line x1="400.9" y1="203.16" x2="404.5" y2="203.16" stroke="#3a3a3a" stroke-width="1"/>
<line x1="400.9" y1="210.81" x2="404.5" y2="210.81" stroke="#3a3a3a" stroke-width="1"/>
<line x1="399.1" y1="218.45" x2="405.7" y2="218.45" stroke="#333" stroke-width="1"/>
<line x1="400.9" y1="226.09" x2="404.5" y2="226.09" stroke="#3a3a3a" stroke-width="1"/>
<line x1="400.9" y1="233.74" x2="404.5" y2="233.74" stroke="#3a3a3a" stroke-width="1"/>
<text x="395.6" y="30.35" font-size="8.5" text-anchor="end" fill="#555">0</text>
<text x="395.6" y="68.57" font-size="8.5" text-anchor="end" fill="#555">−5</text>
<text x="395.6" y="106.79" font-size="8.5" text-anchor="end" fill="#555">−10</text>
<text x="395.6" y="145.01" font-size="8.5" text-anchor="end" fill="#555">−15</text>
<text x="395.6" y="183.23" font-size="8.5" text-anchor="end" fill="#555">−20</text>
<text x="395.6" y="221.45" font-size="8.5" text-anchor="end" fill="#555">−25</text>
<line x1="435.9" y1="237.3" x2="435.9" y2="242.70000000000002" stroke="#333" stroke-width="1"/>
<text x="435.9" y="253.6" font-size="8.5" text-anchor="middle" fill="#555">2</text>
<line x1="490.0" y1="237.3" x2="490.0" y2="242.70000000000002" stroke="#333" stroke-width="1"/>
<text x="490.0" y="253.6" font-size="8.5" text-anchor="middle" fill="#555">1</text>
<line x1="544.5" y1="237.3" x2="544.5" y2="242.70000000000002" stroke="#333" stroke-width="1"/>
<text x="544.5" y="253.6" font-size="8.5" text-anchor="middle" fill="#555">4</text>
<line x1="598.7" y1="237.3" x2="598.7" y2="242.70000000000002" stroke="#333" stroke-width="1"/>
<text x="598.7" y="253.6" font-size="8.5" text-anchor="middle" fill="#555">3</text>
<line x1="653.0" y1="237.3" x2="653.0" y2="242.70000000000002" stroke="#333" stroke-width="1"/>
<text x="653.0" y="253.6" font-size="8.5" text-anchor="middle" fill="#555">Other</text>
<text x="545" y="270.2" font-size="9.9" font-style="italic" text-anchor="middle" fill="#555">Cluster #</text>
<text transform="translate(374.1 121) rotate(-90)" font-size="10" font-style="italic" text-anchor="middle" fill="#555">van der Waals energy</text>
</g>
<text class="ser" x="0.1" y="321.4" font-size="17.4" font-weight="bold" font-style="italic" fill="#111">(e)</text>
<text class="ser" x="355.6" y="325.0" font-size="17.4" font-weight="bold" font-style="italic" fill="#111">(f)</text>
</g>
</svg></body></html>
